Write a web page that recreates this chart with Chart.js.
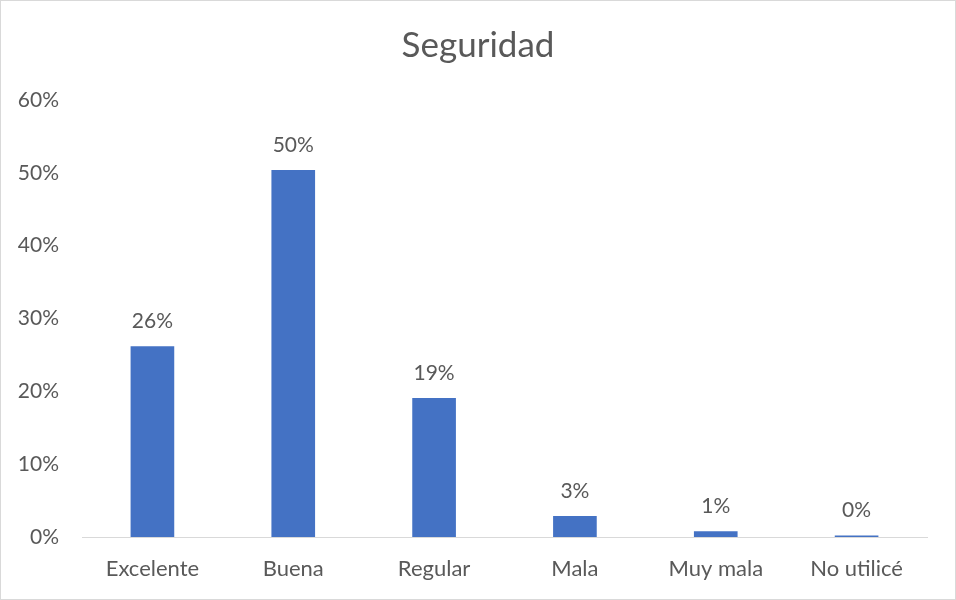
<!DOCTYPE html>
<html>
<head>
<meta charset="utf-8">
<script src="https://cdn.jsdelivr.net/npm/chart.js@4"></script>
<style>
  html, body { margin: 0; padding: 0; background: #fff; }
  #wrap { width: 954px; height: 598px; border: 1px solid #D9D9D9; position: relative; }
  canvas { display: block; }
</style>
</head>
<body>
<div id="wrap"><canvas id="c" width="954" height="598"></canvas></div>
<script>
const chartTitle = "Seguridad";
const categories = ["Excelente", "Buena", "Regular", "Mala", "Muy mala", "No utilicé"];
const values = [26.2, 50.4, 19.1, 2.9, 0.8, 0.2];
const valueLabels = ["26%", "50%", "19%", "3%", "1%", "0%"];
const yTicks = { min: 0, max: 60, step: 10 };

const textColor = "#595959";
const fontFamily = "Lato, 'Open Sans', sans-serif";

const dataLabelPlugin = {
  id: "dataLabels",
  afterDatasetsDraw(chart) {
    const ctx = chart.ctx;
    const meta = chart.getDatasetMeta(0);
    ctx.save();
    ctx.font = "21px " + fontFamily;
    ctx.fillStyle = textColor;
    ctx.textAlign = "center";
    ctx.textBaseline = "middle";
    meta.data.forEach((bar, i) => {
      ctx.fillText(valueLabels[i], bar.x, bar.y - 25);
    });
    ctx.restore();
  }
};

new Chart(document.getElementById("c"), {
  type: "bar",
  data: {
    labels: categories,
    datasets: [{
      data: values,
      backgroundColor: "#4472C4",
      borderWidth: 0,
      barPercentage: 0.62,
      categoryPercentage: 0.5
    }]
  },
  options: {
    responsive: false,
    animation: false,
    layout: { padding: 0 },
    plugins: {
      legend: { display: false },
      tooltip: { enabled: false },
      title: {
        display: true,
        text: chartTitle,
        color: textColor,
        font: { family: fontFamily, size: 35, weight: "normal", lineHeight: 1.2 },
        padding: { top: 24, bottom: 33 }
      }
    },
    scales: {
      x: {
        grid: { display: false, drawTicks: false },
        border: { display: true, color: "#D9D9D9", width: 1 },
        ticks: { color: textColor, font: { family: fontFamily, size: 22 }, padding: 19, maxRotation: 0 },
        afterFit(scale) { scale.height = 62; }
      },
      y: {
        min: yTicks.min,
        max: yTicks.max,
        grid: { display: false, drawTicks: false },
        border: { display: false },
        ticks: {
          stepSize: yTicks.step,
          color: textColor,
          font: { family: fontFamily, size: 21 },
          padding: 23,
          callback: v => v + "%"
        },
        afterFit(scale) { scale.width = 81; }
      },
      yRight: {
        type: "linear",
        position: "right",
        min: 0,
        max: 1,
        grid: { display: false, drawTicks: false },
        border: { display: false },
        ticks: { display: false },
        afterFit(scale) { scale.width = 28; }
      }
    }
  },
  plugins: [dataLabelPlugin]
});
</script>
</body>
</html>
